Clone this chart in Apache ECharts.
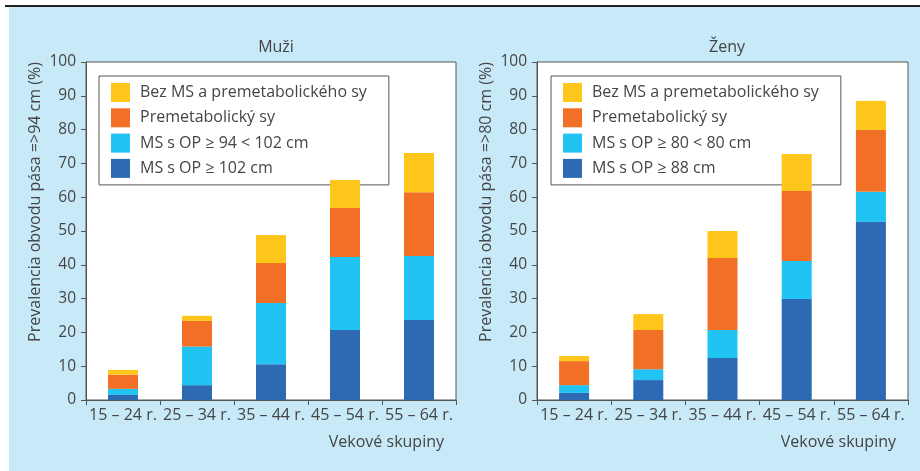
<!DOCTYPE html>
<html><head><meta charset="utf-8">
<script src="https://cdn.jsdelivr.net/npm/echarts@6/dist/echarts.min.js"></script>
<style>html,body{margin:0;padding:0;background:#fff}#c{width:920px;height:471px}</style>
</head><body><div id="c"></div>
<script>
const categories = ['15 – 24 r.', '25 – 34 r.', '35 – 44 r.', '45 – 54 r.', '55 – 64 r.'];
const yTicks = [0,10,20,30,40,50,60,70,80,90,100];
// Muži (stacked segments, bottom to top)
const muziBlue   = [1.5, 4.4, 10.6, 20.7, 23.7];
const muziCyan   = [1.8, 11.4, 18.1, 21.6, 18.9];
const muziOrange = [4.2, 7.6, 11.8, 14.5, 18.9];
const muziYellow = [1.4, 1.5, 8.3, 8.3, 11.6];
// Ženy
const zenyBlue   = [2.1, 5.9, 12.4, 29.9, 52.7];
const zenyCyan   = [2.3, 3.2, 8.3, 11.2, 8.9];
const zenyOrange = [7.1, 11.6, 21.3, 20.7, 18.3];
const zenyYellow = [1.5, 4.7, 8.0, 11.0, 8.6];

const nameYellow = 'Bez MS a premetabolického sy';
const nameOrange = 'Premetabolický sy';
const muziNameCyan = 'MS s OP ≥ 94 < 102 cm';
const muziNameBlue = 'MS s OP ≥ 102 cm';
const zenyNameCyan = 'MS s OP ≥ 80 < 80 cm';
const zenyNameBlue = 'MS s OP ≥ 88 cm';

const C = {yellow:'#FEC61A', orange:'#F26F26', cyan:'#21C3F2', blue:'#2D6AB3'};
const FONT = 'Open Sans';
const TXT = '#454545';

function xAx(gi){
  return {type:'category', gridIndex:gi, data:categories,
    axisLine:{lineStyle:{color:'#555',width:1}},
    axisTick:{show:true,length:5,alignWithLabel:false,lineStyle:{color:'#555'}},
    axisLabel:{color:TXT,fontFamily:FONT,fontSize:16,margin:7,interval:0},
    name:'Vekové skupiny', nameLocation:'end', nameGap:-12,
    nameTextStyle:{color:TXT,fontFamily:FONT,fontSize:16,align:'right',verticalAlign:'top',padding:[34,0,0,0]}
  };
}
function yAx(gi,name){
  return {type:'value', gridIndex:gi, min:0, max:100, interval:10,
    axisLine:{show:true,lineStyle:{color:'#555',width:1}},
    axisTick:{show:true,length:5,lineStyle:{color:'#555'}},
    splitLine:{show:false},
    axisLabel:{color:TXT,fontFamily:FONT,fontSize:15.5,margin:10},
    name:name, nameLocation:'middle', nameGap:43,
    nameTextStyle:{color:TXT,fontFamily:FONT,fontSize:16,padding:[0,0,0,58]}
  };
}
function ser(name,data,color,gi,stack){
  return {type:'bar', name:name, data:data, stack:stack, xAxisIndex:gi, yAxisIndex:gi,
    barWidth:30, z:5, itemStyle:{color:color}, emphasis:{disabled:true}};
}
function legend(left,data){
  return {left:left, top:76, orient:'vertical', itemWidth:19, itemHeight:19, itemGap:6.3,
    icon:'rect', data:data, borderColor:'#555', borderWidth:1, padding:[7,22,7,12],
    z:1,
    textStyle:{color:TXT,fontFamily:FONT,fontSize:16,padding:[0,0,0,5]}};
}

const chart = echarts.init(document.getElementById('c'), null, {renderer:'canvas'});
chart.setOption({
  animation:false,
  graphic:[
    {type:'rect', shape:{x:9,y:7,width:911,height:464}, style:{fill:'#C8E9F8'}, z:-10},
    {type:'line', shape:{x1:5,y1:6,x2:920,y2:6}, style:{stroke:'#222',lineWidth:2}, z:-9}
  ],
  title:[
    {text:'Muži', left:271, top:34, textAlign:'center', textStyle:{color:TXT,fontFamily:FONT,fontSize:16,fontWeight:'normal'}},
    {text:'Ženy', left:722, top:34, textAlign:'center', textStyle:{color:TXT,fontFamily:FONT,fontSize:16,fontWeight:'normal'}}
  ],
  grid:[
    {left:86, right:464, top:62, bottom:71, show:true, backgroundColor:'#fff', borderColor:'#555', borderWidth:1},
    {left:537, right:12, top:62, bottom:71, show:true, backgroundColor:'#fff', borderColor:'#555', borderWidth:1}
  ],
  legend:[
    legend(99,[nameYellow,nameOrange,muziNameCyan,muziNameBlue]),
    legend(551,[nameYellow,nameOrange,zenyNameCyan,zenyNameBlue])
  ],
  xAxis:[xAx(0),xAx(1)],
  yAxis:[yAx(0,'Prevalencia obvodu pása =>94 cm (%)'), yAx(1,'Prevalencia obvodu pása =>80 cm (%)')],
  series:[
    ser(muziNameBlue,muziBlue,C.blue,0,'m'),
    ser(muziNameCyan,muziCyan,C.cyan,0,'m'),
    ser(nameOrange,muziOrange,C.orange,0,'m'),
    ser(nameYellow,muziYellow,C.yellow,0,'m'),
    ser(zenyNameBlue,zenyBlue,C.blue,1,'z'),
    ser(zenyNameCyan,zenyCyan,C.cyan,1,'z'),
    ser(nameOrange,zenyOrange,C.orange,1,'z'),
    ser(nameYellow,zenyYellow,C.yellow,1,'z')
  ]
});
</script></body></html>
